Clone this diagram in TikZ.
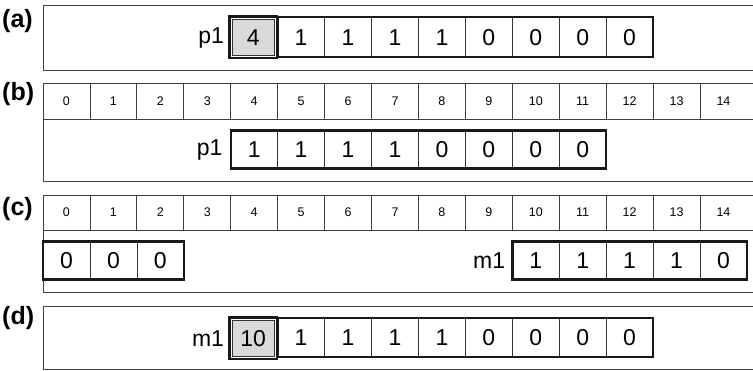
\documentclass[tikz,border=0pt]{standalone}
\usepackage{fontspec}
\setmainfont{Liberation Sans}
\usepackage{tikz}
\usetikzlibrary{positioning}

\newcommand{\colx}[1]{43+46.93*(#1+0.5)}

\begin{document}
\begin{tikzpicture}[
    x=1pt, y=-1pt,
    panel/.style={draw=black!75, line width=0.8pt},
    cell/.style={
        rectangle,
        draw=black!80,
        line width=0.7pt,
        minimum width=46.93pt,
        minimum height=38pt,
        inner sep=0pt,
        outer sep=0pt,
        font=\fontsize{23}{23}\selectfont
    },
    keycell/.style={cell, fill=black!15, minimum width=42pt, minimum height=36pt},
    idx/.style={rectangle, minimum width=46.93pt, minimum height=35.5pt, inner sep=0pt, outer sep=0pt, font=\fontsize{12.5}{12.5}\selectfont},
    tag/.style={anchor=west, inner sep=0pt, font=\fontsize{25}{25}\selectfont\bfseries},
    lab/.style={inner sep=0pt, font=\fontsize{23}{23}\selectfont},
    frame/.style={draw=black!90, line width=2.4pt}
]

\useasboundingbox (0,0) rectangle (753,371);

% (a)
\draw[panel] (43,5) rectangle (770,70);
\node[tag] (ta) at (2,21) {(a)};
\node[keycell] (a4) at ({\colx{4}-1},37.5) {4};
\foreach \v [count=\i from 5] in {1,1,1,1,0,0,0,0}
    \node[cell, minimum height=40pt] (a\i) at ({\colx{\i}},37.3) {\v};
\draw[frame] (a5.north west) rectangle (a12.south east);
\draw[frame] ([shift={(-2.8pt,2.8pt)}]a4.north west) rectangle ([shift={(2.8pt,-2.8pt)}]a4.south east);
\node[lab, left=8pt of a4] (pa) {p1};

% (b)
\draw[panel] (43,83.5) rectangle (770,181.5);
\node[tag] (tb) at (2,94.5) {(b)};
\foreach \k in {0,...,14}
    \node[idx] (b\k) at ({\colx{\k}},101.25) {\k};
\foreach \k in {1,...,14}
    \draw[panel] (b\k.north west) -- (b\k.south west);
\coordinate (bR) at (770,119);
\draw[panel] (b0.south west) -- (bR);
\foreach \v [count=\i from 4] in {1,1,1,1,0,0,0,0}
    \node[cell] (pb\i) at ({\colx{\i}},149.7) {\v};
\draw[frame] (pb4.north west) rectangle (pb11.south east);
\node[lab, left=8pt of pb4] (pbn) {p1};

% (c)
\draw[panel] (43,195) rectangle (770,292.7);
\node[tag] (tc) at (2,209.5) {(c)};
\foreach \k in {0,...,14}
    \node[idx, minimum height=35pt] (c\k) at ({\colx{\k}},212.5) {\k};
\foreach \k in {1,...,14}
    \draw[panel] (c\k.north west) -- (c\k.south west);
\coordinate (cR) at (770,230);
\draw[panel] (c0.south west) -- (cR);
\foreach \v [count=\i from 0] in {0,0,0}
    \node[cell] (pc\i) at ({\colx{\i}},260.5) {\v};
\draw[frame] (pc0.north west) rectangle (pc2.south east);
\foreach \v [count=\i from 10] in {1,1,1,1,0}
    \node[cell] (mc\i) at ({\colx{\i}},260.5) {\v};
\draw[frame] (mc10.north west) rectangle (mc14.south east);
\node[lab, left=7pt of mc10] (mcn) {m1};

% (d)
\draw[panel] (43,306) rectangle (770,369.3);
\node[tag] (td) at (2,318) {(d)};
\node[keycell] (d4) at ({\colx{4}-1},338.5) {10};
\foreach \v [count=\i from 5] in {1,1,1,1,0,0,0,0}
    \node[cell, minimum height=39pt] (d\i) at ({\colx{\i}},337.8) {\v};
\draw[frame] (d5.north west) rectangle (d12.south east);
\draw[frame] ([shift={(-2.8pt,2.8pt)}]d4.north west) rectangle ([shift={(2.8pt,-2.8pt)}]d4.south east);
\node[lab, left=8pt of d4] (dn) {m1};

\end{tikzpicture}
\end{document}
